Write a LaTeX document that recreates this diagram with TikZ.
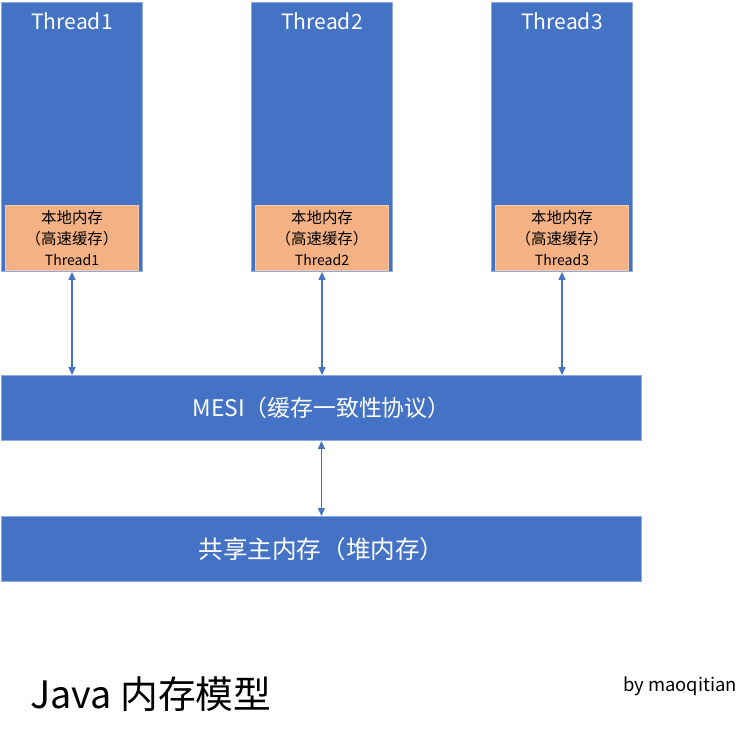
\documentclass[tikz,border=0pt]{standalone}
\usepackage{fontspec}
\setmainfont{Noto Sans CJK SC}
\usetikzlibrary{arrows.meta, positioning}
\definecolor{blockcol}{RGB}{68,114,196}
\definecolor{blockborder}{RGB}{143,170,220}
\definecolor{cachecol}{RGB}{244,177,131}
\definecolor{cacheborder}{RGB}{248,203,173}
\definecolor{arrowcol}{RGB}{68,114,196}
\tikzset{
  thread/.style={rectangle, fill=blockcol, draw=blockborder, line width=0.6pt,
    minimum width=2.82cm, minimum height=5.38cm, anchor=north west, inner sep=0pt},
  cache/.style={rectangle, fill=cachecol, draw=cacheborder, line width=0.4pt,
    minimum width=2.66cm, minimum height=1.3cm, inner sep=0pt, align=center,
    font=\fontsize{8.8}{11.9}\selectfont},
  bar/.style={rectangle, fill=blockcol, draw=blockborder, line width=0.6pt,
    minimum width=12.8cm, minimum height=1.3cm, anchor=north west,
    text=white, inner sep=0pt},
  tname/.style={text=white, font=\fontsize{12}{14}\selectfont},
  arr/.style={{Triangle[length=4.5pt,width=4pt]}-{Triangle[length=4.5pt,width=4pt]},
    line width=0.6pt, color=arrowcol},
}
\begin{document}
\begin{tikzpicture}[x=0.02cm, y=-0.02cm]
  \useasboundingbox (0,0) rectangle (748,740);

  % threads with their local caches
  \node[thread] (t1) at (1,2) {};
  \node[thread] (t2) at (251,2) {};
  \node[thread] (t3) at (491,2) {};

  \node[tname, below=0.1cm of t1.north] (t1name) {Thread1};
  \node[tname, below=0.1cm of t2.north] (t2name) {Thread2};
  \node[tname, below=0.1cm of t3.north] (t3name) {Thread3};

  \node[cache, above=0.02cm of t1.south, anchor=south] (c1) {本地内存\\（高速缓存）\\{\fontsize{8}{9}\selectfont Thread1}};
  \node[cache, above=0.02cm of t2.south, anchor=south] (c2) {本地内存\\（高速缓存）\\{\fontsize{8}{9}\selectfont Thread2}};
  \node[cache, above=0.02cm of t3.south, anchor=south] (c3) {本地内存\\（高速缓存）\\{\fontsize{8}{9}\selectfont Thread3}};

  % protocol and main memory
  \node[bar, font=\fontsize{13}{15}\selectfont] (mesi) at (1,375) {MESI（缓存一致性协议）};
  \node[bar, font=\fontsize{14}{16}\selectfont] (heap) at (1,516) {共享主内存（堆内存）};

  % connections
  \draw[arr] (t1.south) -- (t1.south |- mesi.north);
  \draw[arr] (t2.south) -- (t2.south |- mesi.north);
  \draw[arr] (t3.south) -- (t3.south |- mesi.north);
  \draw[arr] (mesi.south) -- (heap.north);

  % captions
  \node[anchor=west, font=\fontsize{21.5}{24}\selectfont] (title) at (24,694) {Java 内存模型};
  \node[anchor=west, font=\fontsize{10.5}{12}\selectfont] (author) at (617,686) {by maoqitian};
\end{tikzpicture}
\end{document}
